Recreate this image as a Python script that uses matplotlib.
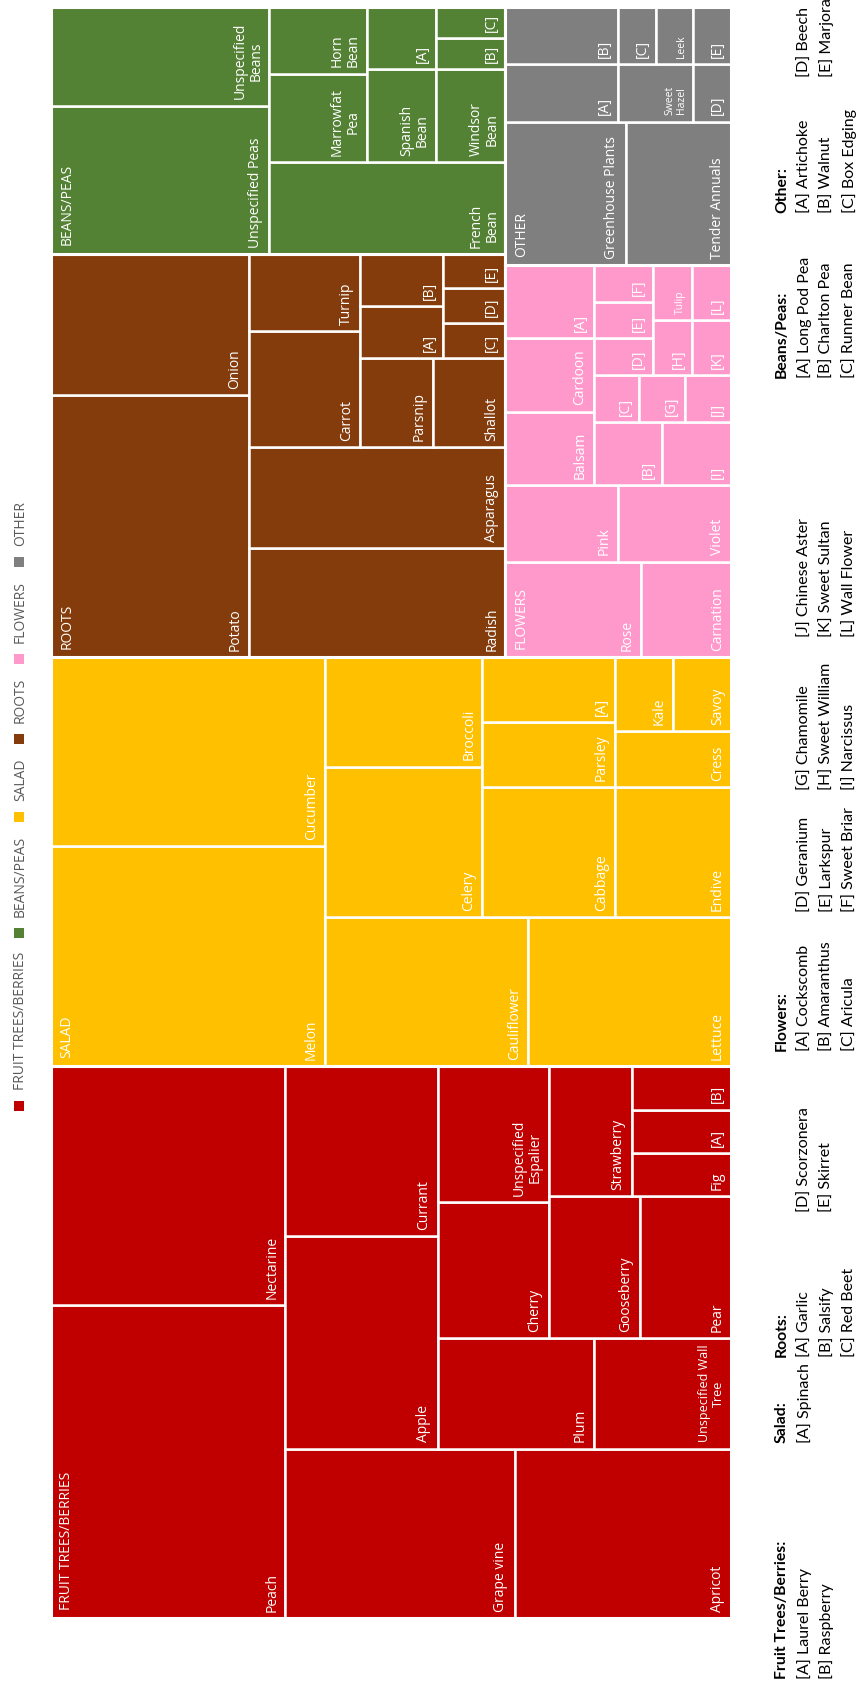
import matplotlib
matplotlib.use("Agg")
import matplotlib.pyplot as plt
from matplotlib.patches import Rectangle
from matplotlib.font_manager import FontProperties

# ---------------- data ----------------
categories = ["FRUIT TREES/BERRIES", "SALAD", "ROOTS", "BEANS/PEAS", "FLOWERS", "OTHER"]
legend_order = ["FRUIT TREES/BERRIES", "BEANS/PEAS", "SALAD", "ROOTS", "FLOWERS", "OTHER"]

fruit_labels = ["Peach", "Nectarine", "Grape vine", "Apricot", "Apple", "Currant", "Plum",
                "Unspecified Wall\nTree", "Cherry", "Unspecified\nEspalier", "Gooseberry", "Pear",
                "Strawberry", "Fig", "[A]", "[B]"]
fruit_values = [34, 26, 18, 17, 15, 12, 8, 7, 7, 7, 6, 6, 5, 2, 2, 2]

salad_labels = ["Melon", "Cucumber", "Cauliflower", "Lettuce", "Celery", "Broccoli", "Cabbage",
                "Endive", "Parsley", "[A]", "Cress", "Kale", "Savoy"]
salad_values = [28, 24, 14, 14, 11, 8, 8, 7, 4, 4, 3, 2, 2]

roots_labels = ["Potato", "Onion", "Radish", "Asparagus", "Carrot", "Turnip", "Parsnip", "Shallot",
                "[A]", "[B]", "[C]", "[D]", "[E]"]
roots_values = [24, 13, 13, 12, 6, 4, 3, 3, 2, 2, 1, 1, 1]

beans_labels = ["Unspecified Peas", "Unspecified\nBeans", "French\nBean", "Marrowfat\nPea", "Horn\nBean",
                "Spanish\nBean", "Windsor\nBean", "[A]", "[B]", "[C]"]
beans_values = [15, 10, 10, 4, 3, 3, 3, 2, 1, 1]

flowers_labels = ["Rose", "Carnation", "Pink", "Violet", "Balsam", "Cardoon", "[A]", "[B]", "[I]",
                  "[C]", "[G]", "[J]", "[D]", "[E]", "[F]", "[H]", "[K]", "Tulip", "[L]"]
flowers_values = [6, 4, 4, 4, 3, 3, 3, 2, 2, 1, 1, 1, 1, 1, 1, 1, 1, 1, 1]

other_labels = ["Greenhouse Plants", "Tender Annuals", "[A]", "[B]", "Sweet\nHazel", "[D]", "[C]",
                "Leek", "[E]"]
other_values = [8, 7, 3, 3, 2, 1, 1, 1, 1]

legend_notes = [
    ("Fruit Trees/Berries:", ["[A] Laurel Berry", "[B] Raspberry"]),
    ("Salad:", ["[A] Spinach"]),
    ("Roots:", ["[A] Garlic", "[B] Salsify", "[C] Red Beet", "[D] Scorzonera", "[E] Skirret"]),
    ("Flowers:", ["[A] Cockscomb", "[B] Amaranthus", "[C] Aricula", "[D] Geranium", "[E] Larkspur",
                  "[F] Sweet Briar", "[G] Chamomile", "[H] Sweet William", "[I] Narcissus",
                  "[J] Chinese Aster", "[K] Sweet Sultan", "[L] Wall Flower"]),
    ("Beans/Peas:", ["[A] Long Pod Pea", "[B] Charlton Pea", "[C] Runner Bean"]),
    ("Other:", ["[A] Artichoke", "[B] Walnut", "[C] Box Edging", "[D] Beech", "[E] Marjoram"]),
]

# ---------------- styling / layout ----------------
cat_colors = {"FRUIT TREES/BERRIES": "#C00000", "SALAD": "#FFC000", "ROOTS": "#843C0C",
              "BEANS/PEAS": "#548235", "FLOWERS": "#FF99CC", "OTHER": "#7F7F7F"}
cat_data = {"FRUIT TREES/BERRIES": (fruit_labels, fruit_values),
            "SALAD": (salad_labels, salad_values),
            "ROOTS": (roots_labels, roots_values),
            "BEANS/PEAS": (beans_labels, beans_values),
            "FLOWERS": (flowers_labels, flowers_values),
            "OTHER": (other_labels, other_values)}
# number of items placed in each successive strip of the treemap
strip_groups = {"top": [1, 1, 2, 1, 1],
                "FRUIT TREES/BERRIES": [2, 2, 2, 2, 2, 2, 1, 1, 2],
                "SALAD": [2, 2, 2, 2, 2, 1, 1, 1],
                "ROOTS": [2, 1, 1, 2, 2, 2, 1, 1, 1],
                "BEANS/PEAS": [2, 1, 2, 2, 1, 2],
                "FLOWERS": [2, 2, 3, 2, 3, 3, 2, 1, 1],
                "OTHER": [2, 2, 2, 1, 1, 1]}
small_label = {"Sweet\nHazel": 7.5, "Leek": 7.5, "Tulip": 7.5, "Unspecified Wall\nTree": 9}

W_PX, H_PX = 866, 1682
CH_L, CH_R, CH_T, CH_B = 51, 731, 7, 1618  # chart area in pixels

LABEL_FONT = ["Open Sans", "DejaVu Sans"]
NOTE_FONT = ["Lato", "DejaVu Sans"]


def strip_layout(values, groups, x, y, w, h):
    rects = []
    remaining = float(sum(values))
    i = 0
    for g in groups:
        vals = values[i:i + g]
        s = float(sum(vals))
        if w >= h:  # column on the left, stacked upward
            cw = w * s / remaining
            yy = y
            for v in vals:
                ch = h * v / s
                rects.append((x, yy, cw, ch))
                yy += ch
            x += cw
            w -= cw
        else:  # row at the bottom, left to right
            rh = h * s / remaining
            xx = x
            for v in vals:
                rw = w * v / s
                rects.append((xx, y, rw, rh))
                xx += rw
            y += rh
            h -= rh
        remaining -= s
        i += g
    return rects


fig = plt.figure(figsize=(W_PX / 100, H_PX / 100), dpi=100)
fig.patch.set_facecolor("white")

ax_over = fig.add_axes([0, 0, 1, 1])
ax_over.set_xlim(0, W_PX)
ax_over.set_ylim(H_PX, 0)
ax_over.axis("off")

cw_px = CH_R - CH_L
chh_px = CH_B - CH_T
ax = fig.add_axes([CH_L / W_PX, (H_PX - CH_B) / H_PX, cw_px / W_PX, chh_px / H_PX])
ax.set_xlim(0, cw_px)
ax.set_ylim(0, chh_px)
ax.axis("off")

cat_totals = [sum(cat_data[c][1]) for c in categories]
cat_rects = strip_layout(cat_totals, strip_groups["top"], 0, 0, cw_px, chh_px)

for cat, (cx, cy, cwid, chei) in zip(categories, cat_rects):
    labels, values = cat_data[cat]
    rects = strip_layout(values, strip_groups[cat], cx, cy, cwid, chei)
    for lab, (x, y, w, h) in zip(labels, rects):
        ax.add_patch(Rectangle((x, y), w, h, facecolor=cat_colors[cat], edgecolor="white",
                               linewidth=1.8))
        ax.annotate(lab, xy=(x + w, y), xytext=(-4.5, 4.5), textcoords="offset points",
                    rotation=90, ha="right", va="bottom", multialignment="center",
                    color="white", fontsize=small_label.get(lab, 10), family=LABEL_FONT,
                    linespacing=1.05)
    ax.add_patch(Rectangle((cx, cy), cwid, chei, facecolor="none", edgecolor="white",
                           linewidth=2.2))
    ax.annotate(cat, xy=(cx, cy), xytext=(6, 6), textcoords="offset points", rotation=90,
                ha="left", va="bottom", color="white", fontsize=10, family=LABEL_FONT)

# ---------------- series legend (rotated, left side) ----------------
renderer = fig.canvas.get_renderer()
fp_leg = FontProperties(family=LABEL_FONT, size=10)
lens = [renderer.get_text_width_height_descent(c, fp_leg, ismath=False)[0] for c in legend_order]
marker, gap_mt, gap_items = 10, 11, 14
total = sum(marker + gap_mt + L for L in lens) + gap_items * (len(lens) - 1)
yc = 806 + total / 2
for c, L in zip(legend_order, lens):
    ax_over.add_patch(Rectangle((13.5, yc - marker), marker, marker, facecolor=cat_colors[c],
                                edgecolor="none"))
    yc -= marker + gap_mt
    ax_over.text(20.5, yc, c, rotation=90, ha="center", va="bottom", fontproperties=fp_leg,
                 color="#595959")
    yc -= L + gap_items

# ---------------- notes (rotated, right side) ----------------
note_x = [782, 804.5, 827, 849.5]
note_cols = {"Fruit Trees/Berries:": [1679], "Salad:": [1443], "Roots:": [1357, 1212],
             "Flowers:": [1051, 912, 790, 637], "Beans/Peas:": [378], "Other:": [213, 77]}
fp_head = FontProperties(family=NOTE_FONT, size=11.3, weight="bold")
fp_note = FontProperties(family=NOTE_FONT, size=11.5)
for head, items in legend_notes:
    ys = note_cols[head]
    ax_over.text(note_x[0], ys[0], head, rotation=90, ha="center", va="bottom",
                 fontproperties=fp_head, color="black")
    for i, it in enumerate(items):
        col, row = divmod(i, 3)
        ax_over.text(note_x[row + 1], ys[col], it, rotation=90, ha="center", va="bottom",
                     fontproperties=fp_note, color="black")

fig.savefig("out.png", dpi=100, facecolor="white")
